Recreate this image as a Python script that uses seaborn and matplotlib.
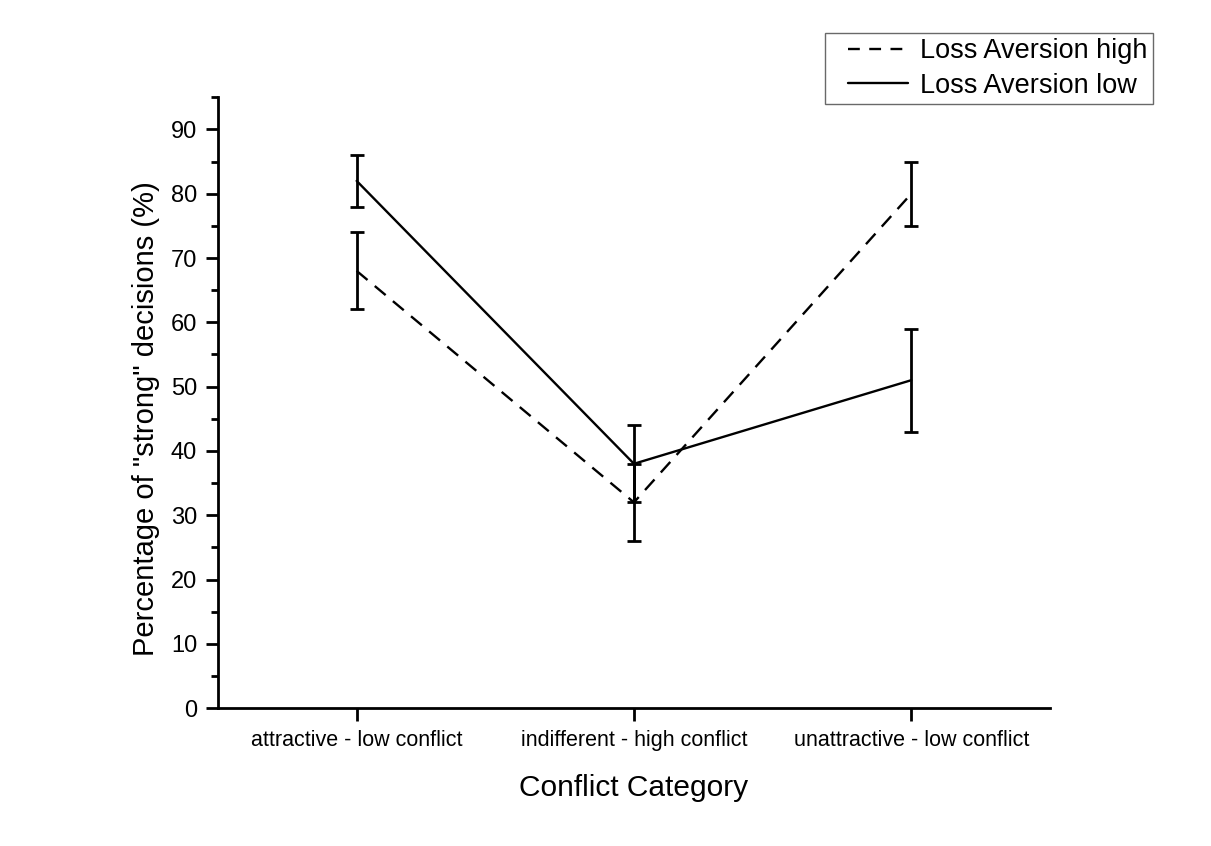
import matplotlib
matplotlib.use("Agg")
import numpy as np
import matplotlib.pyplot as plt
import seaborn as sns
import pandas as pd
from matplotlib.ticker import MultipleLocator
from matplotlib.lines import Line2D
from matplotlib.legend_handler import HandlerLine2D

categories = ["attractive - low conflict", "indifferent - high conflict", "unattractive - low conflict"]
high_values = [68, 32, 80]
high_err = [6, 6, 5]
low_values = [82, 38, 51]
low_err = [4, 6, 8]
series_names = ["Loss Aversion high", "Loss Aversion low"]

sns.set_theme(style="ticks")
plt.rcParams['font.family'] = ['Liberation Sans', 'DejaVu Sans']
plt.rcParams['text.color'] = 'black'
plt.rcParams['axes.labelcolor'] = 'black'

df = pd.DataFrame({
    "x": list(range(3)) * 2,
    "y": high_values + low_values,
    "err": high_err + low_err,
    "series": [series_names[0]] * 3 + [series_names[1]] * 3,
})

fig = plt.figure(figsize=(12.11, 8.46), dpi=100)
ax = fig.add_axes([0.18, 0.163, 0.687, 0.722])

sns.lineplot(data=df, x="x", y="y", style="series", hue="series",
             palette={series_names[0]: "black", series_names[1]: "black"},
             dashes={series_names[0]: (6, 4), series_names[1]: ""},
             linewidth=1.7, ax=ax, legend=False, zorder=3)
for name in series_names:
    sub = df[df.series == name]
    ax.errorbar(sub.x, sub.y, yerr=sub.err, fmt="none", ecolor="black",
                elinewidth=2.0, capsize=4.7, capthick=2.0, zorder=4)

ax.set_xlim(-0.5, 2.5)
ax.set_ylim(0, 95)
ax.set_xticks(range(3))
ax.set_xticklabels(categories, fontsize=15.5)
ax.set_yticks(range(0, 91, 10))
ax.yaxis.set_minor_locator(MultipleLocator(5))
ax.tick_params(axis="y", which="major", labelsize=17, length=9, width=2, direction="out",
               colors="black", pad=6)
ax.tick_params(axis="y", which="minor", length=5, width=2, direction="out", colors="black")
ax.tick_params(axis="x", which="major", length=9, width=2, direction="out", colors="black", pad=7)
for s in ["top", "right"]:
    ax.spines[s].set_visible(False)
for s in ["left", "bottom"]:
    ax.spines[s].set_linewidth(2)
    ax.spines[s].set_color("black")

ax.set_xlabel("Conflict Category", fontsize=21.5, labelpad=16)
ax.set_ylabel('Percentage of "strong" decisions (%)', fontsize=21)
ax.yaxis.set_label_coords(-0.070, 45 / 95)


class ShiftedLineHandler(HandlerLine2D):
    def get_xdata(self, legend, xdescent, ydescent, width, height, fontsize):
        xdata = np.linspace(-xdescent + 0.216 * width, -xdescent + 0.948 * width, 2)
        return xdata, xdata


handles = [Line2D([], [], color="black", lw=1.7, ls=(0, (5, 4))),
           Line2D([], [], color="black", lw=1.7, ls="-")]
leg = fig.legend(handles, series_names, loc="upper right", bbox_to_anchor=(1153/1211, 1 - 33/846),
                 fontsize=19.5, frameon=True, fancybox=False, handlelength=3.0,
                 borderpad=0.2, labelspacing=0.3, handletextpad=0.3, borderaxespad=0,
                 handler_map={Line2D: ShiftedLineHandler()})
leg.get_frame().set_edgecolor("#444444")
leg.get_frame().set_linewidth(1.0)

fig.savefig("out.png", dpi=100, facecolor="white")
